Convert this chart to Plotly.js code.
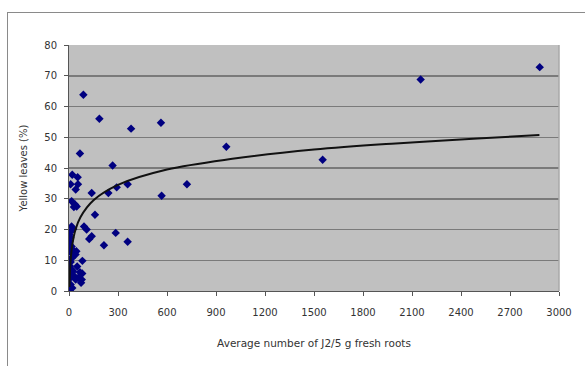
<!DOCTYPE html>
<html>
<head>
<meta charset="utf-8">
<script src="https://cdn.plot.ly/plotly-3.0.1.min.js"></script>
<style>
  html, body { margin: 0; padding: 0; background: #ffffff; }
  #wrap { position: relative; width: 585px; height: 366px; overflow: hidden; }
  #frame { position: absolute; left: 7px; top: 12px; width: 700px; height: 400px;
           border-left: 1.5px solid #8a8a8a; border-top: 1.5px solid #8a8a8a; pointer-events: none; }
  #chart { position: absolute; left: 0; top: 0; width: 585px; height: 366px; }
</style>
</head>
<body>
<div id="wrap">
  <div id="chart"></div>
  <div id="frame"></div>
</div>
<script>
// J2 per 5 g fresh roots (x) and yellow leaves % (y)
const j2Counts = [
  2882, 2153, 1553, 963, 722, 567, 563, 380, 359, 359,
  292, 286, 267, 241, 214, 186, 159, 139, 139, 124,
  108, 92, 88, 82, 67,
  20, 53, 10, 55, 41, 16, 37, 47, 30, 16,
  26, 12, 3, 8, 2, 16, 6, 2, 30, 45,
  40, 25, 1, 10, 5, 15, 25, 8, 67, 81,
  57, 78, 41, 74, 10, 20, 5, 12, 30, 20,
  50
];
const yellowLeaves = [
  72.8, 68.8, 42.7, 46.9, 34.7, 31.0, 54.7, 52.8, 34.7, 16.0,
  33.7, 18.9, 40.8, 31.9, 14.9, 56.0, 24.8, 31.9, 17.8, 16.9,
  20.0, 21.0, 63.8, 9.8, 44.7,
  37.8, 37.0, 34.7, 34.7, 33.0, 29.2, 28.1, 27.5, 27.3, 21.0,
  20.2, 19.4, 18.3, 17.3, 16.2, 14.5, 14.0, 12.9, 12.9, 12.9,
  11.9, 11.9, 10.2, 9.4, 8.1, 7.0, 6.4, 5.9, 6.1, 5.7,
  4.3, 3.7, 3.7, 2.7, 2.1, 1.0, 0.3, 4.5, 5.0, 10.8,
  8.0
];
// Logarithmic trendline, points
const trendX = [3, 5, 10, 20, 40, 70, 150, 300, 600, 1000, 1500, 2000, 2500, 2880];
const trendY = [1.3, 5.0, 10.0, 15.0, 20.0, 24.0, 29.5, 34.5, 39.5, 43.0, 46.0, 48.0, 49.6, 50.7];
const xTicks = [0, 300, 600, 900, 1200, 1500, 1800, 2100, 2400, 2700, 3000];
const yTicks = [0, 10, 20, 30, 40, 50, 60, 70, 80];

const font = "DejaVu Sans, Verdana, sans-serif";
const traces = [
  { x: j2Counts, y: yellowLeaves, type: 'scatter', mode: 'markers',
    marker: { symbol: 'diamond', size: 6.5, color: '#000080' }, showlegend: false },
  { x: trendX, y: trendY, type: 'scatter', mode: 'lines',
    line: { color: '#111111', width: 2, shape: 'spline', smoothing: 1 }, showlegend: false }
];
const layout = {
  width: 585, height: 366,
  margin: { l: 69, r: 26, t: 45, b: 74.5, pad: 0 },
  paper_bgcolor: '#ffffff', plot_bgcolor: '#c0c0c0',
  font: { family: font, size: 10, color: '#333333' },
  xaxis: {
    range: [0, 3000], tickvals: xTicks, ticktext: xTicks.map(String),
    showgrid: false, zeroline: false, showline: true, linecolor: '#555555', linewidth: 1,
    ticks: 'outside', ticklen: 4, tickcolor: '#555555', tickfont: { size: 10, color: '#333333' },
    ticklabelstandoff: 8,
    title: { text: 'Average number of J2/5 g fresh roots', font: { size: 10.5, color: '#333333' }, standoff: 22 }
  },
  yaxis: {
    range: [0, 80], tickvals: yTicks, ticktext: yTicks.map(String),
    showgrid: true, gridcolor: '#7a7a7a', gridwidth: 1.5, zeroline: false,
    showline: true, linecolor: '#555555', linewidth: 1,
    ticks: 'outside', ticklen: 4, tickcolor: '#555555', tickfont: { size: 10, color: '#333333' },
    ticklabelstandoff: 5,
    title: { text: 'Yellow leaves (%)', font: { size: 10, color: '#333333' }, standoff: 14 }
  },
  shapes: [
    { type: 'line', xref: 'paper', yref: 'paper', x0: 1, x1: 1, y0: 0, y1: 1,
      line: { color: '#a8a8a8', width: 1.5 } }
  ]
};
Plotly.newPlot('chart', traces, layout, { staticPlot: true, displayModeBar: false });
</script>
</body>
</html>
